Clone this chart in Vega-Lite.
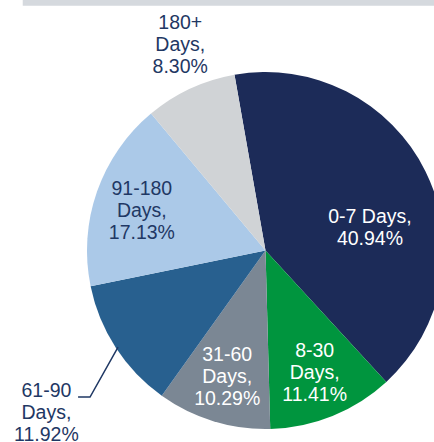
{
  "$schema": "https://vega.github.io/schema/vega-lite/v6.json",
  "width": 531,
  "height": 501,
  "padding": 0,
  "autosize": {"type": "none"},
  "background": "white",
  "config": {"view": {"stroke": null}},
  "datasets": {
    "slices": [
      {"bucket": "0-7 Days", "share": 40.94, "label": "0-7 Days,\n40.94%", "order": 1},
      {"bucket": "8-30 Days", "share": 11.41, "label": "8-30\nDays,\n11.41%", "order": 2},
      {"bucket": "31-60 Days", "share": 10.29, "label": "31-60\nDays,\n10.29%", "order": 3},
      {"bucket": "61-90 Days", "share": 11.92, "label": "61-90\nDays,\n11.92%", "order": 4},
      {"bucket": "91-180 Days", "share": 17.13, "label": "91-180\nDays,\n17.13%", "order": 5},
      {"bucket": "180+ Days", "share": 8.30, "label": "180+\nDays,\n8.30%", "order": 6}
    ],
    "leader": [
      {"px": -1.050, "py": -0.821, "seq": 1},
      {"px": -0.983, "py": -0.821, "seq": 2},
      {"px": -0.826, "py": -0.541, "seq": 3}
    ],
    "band": [
      {"x1": -1.360, "x2": 1.48739, "y1": 1.3714, "y2": 1.40336}
    ]
  },
  "layer": [
    {
      "data": {"name": "band"},
      "mark": {"type": "rect", "color": "#d5d9de"},
      "encoding": {
        "x": {"field": "x1", "type": "quantitative", "scale": {"domain": [-1.48739, 1.48739], "nice": false, "zero": false}, "axis": null},
        "x2": {"field": "x2"},
        "y": {"field": "y1", "type": "quantitative", "scale": {"domain": [-1.40336, 1.40336], "nice": false, "zero": false}, "axis": null},
        "y2": {"field": "y2"}
      }
    },
    {
      "data": {"name": "slices"},
      "mark": {"type": "arc", "outerRadius": 178.5},
      "encoding": {
        "theta": {"field": "share", "type": "quantitative", "stack": true, "scale": {"range": [-0.17453, 6.10865]}},
        "order": {"field": "order", "type": "quantitative"},
        "color": {
          "field": "bucket", "type": "nominal", "legend": null,
          "scale": {
            "domain": ["0-7 Days", "8-30 Days", "31-60 Days", "61-90 Days", "91-180 Days", "180+ Days"],
            "range": ["#1c2b58", "#00953e", "#7b8794", "#28608f", "#abc9e8", "#d0d3d6"]
          }
        }
      }
    },
    {
      "data": {"name": "slices"},
      "mark": {"type": "text", "radius": 131, "dy": -21, "font": "Liberation Sans", "fontSize": 19.5, "lineHeight": 22, "lineBreak": "\n", "align": "center", "baseline": "middle", "fill": "white"},
      "encoding": {
        "theta": {"field": "share", "type": "quantitative", "stack": true},
        "order": {"field": "order", "type": "quantitative"},
        "detail": {"field": "bucket", "type": "nominal"},
        "text": {"condition": {"test": "datum.order == 2 || datum.order == 3", "field": "label"}, "value": ""}
      }
    },
    {
      "data": {"name": "slices"},
      "mark": {"type": "text", "radius": 131, "dx": -13, "dy": 24.5, "font": "Liberation Sans", "fontSize": 19.5, "lineHeight": 22, "lineBreak": "\n", "align": "center", "baseline": "middle", "fill": "white"},
      "encoding": {
        "theta": {"field": "share", "type": "quantitative", "stack": true},
        "order": {"field": "order", "type": "quantitative"},
        "detail": {"field": "bucket", "type": "nominal"},
        "text": {"condition": {"test": "datum.order == 1", "field": "label"}, "value": ""}
      }
    },
    {
      "data": {"name": "slices"},
      "mark": {"type": "text", "radius": 131, "dy": -18, "font": "Liberation Sans", "fontSize": 19.5, "lineHeight": 22, "lineBreak": "\n", "align": "center", "baseline": "middle", "fill": "#1f3864"},
      "encoding": {
        "theta": {"field": "share", "type": "quantitative", "stack": true},
        "order": {"field": "order", "type": "quantitative"},
        "detail": {"field": "bucket", "type": "nominal"},
        "text": {"condition": {"test": "datum.order == 5", "field": "label"}, "value": ""}
      }
    },
    {
      "data": {"name": "slices"},
      "mark": {"type": "text", "radius": 223.5, "dx": 9, "dy": -25, "font": "Liberation Sans", "fontSize": 19.5, "lineHeight": 22, "lineBreak": "\n", "align": "center", "baseline": "middle", "fill": "#1f3864"},
      "encoding": {
        "theta": {"field": "share", "type": "quantitative", "stack": true},
        "order": {"field": "order", "type": "quantitative"},
        "detail": {"field": "bucket", "type": "nominal"},
        "text": {"condition": {"test": "datum.order == 6", "field": "label"}, "value": ""}
      }
    },
    {
      "data": {"name": "slices"},
      "mark": {"type": "text", "radius": 272, "dx": 9, "dy": -8, "font": "Liberation Sans", "fontSize": 19.5, "lineHeight": 22, "lineBreak": "\n", "align": "center", "baseline": "middle", "fill": "#1f3864"},
      "encoding": {
        "theta": {"field": "share", "type": "quantitative", "stack": true},
        "order": {"field": "order", "type": "quantitative"},
        "detail": {"field": "bucket", "type": "nominal"},
        "text": {"condition": {"test": "datum.order == 4", "field": "label"}, "value": ""}
      }
    },
    {
      "data": {"name": "leader"},
      "mark": {"type": "line", "color": "#1f3864", "strokeWidth": 1.5},
      "encoding": {
        "x": {"field": "px", "type": "quantitative", "scale": {"domain": [-1.48739, 1.48739], "nice": false, "zero": false}, "axis": null},
        "y": {"field": "py", "type": "quantitative", "scale": {"domain": [-1.40336, 1.40336], "nice": false, "zero": false}, "axis": null},
        "order": {"field": "seq", "type": "quantitative"}
      }
    }
  ]
}
